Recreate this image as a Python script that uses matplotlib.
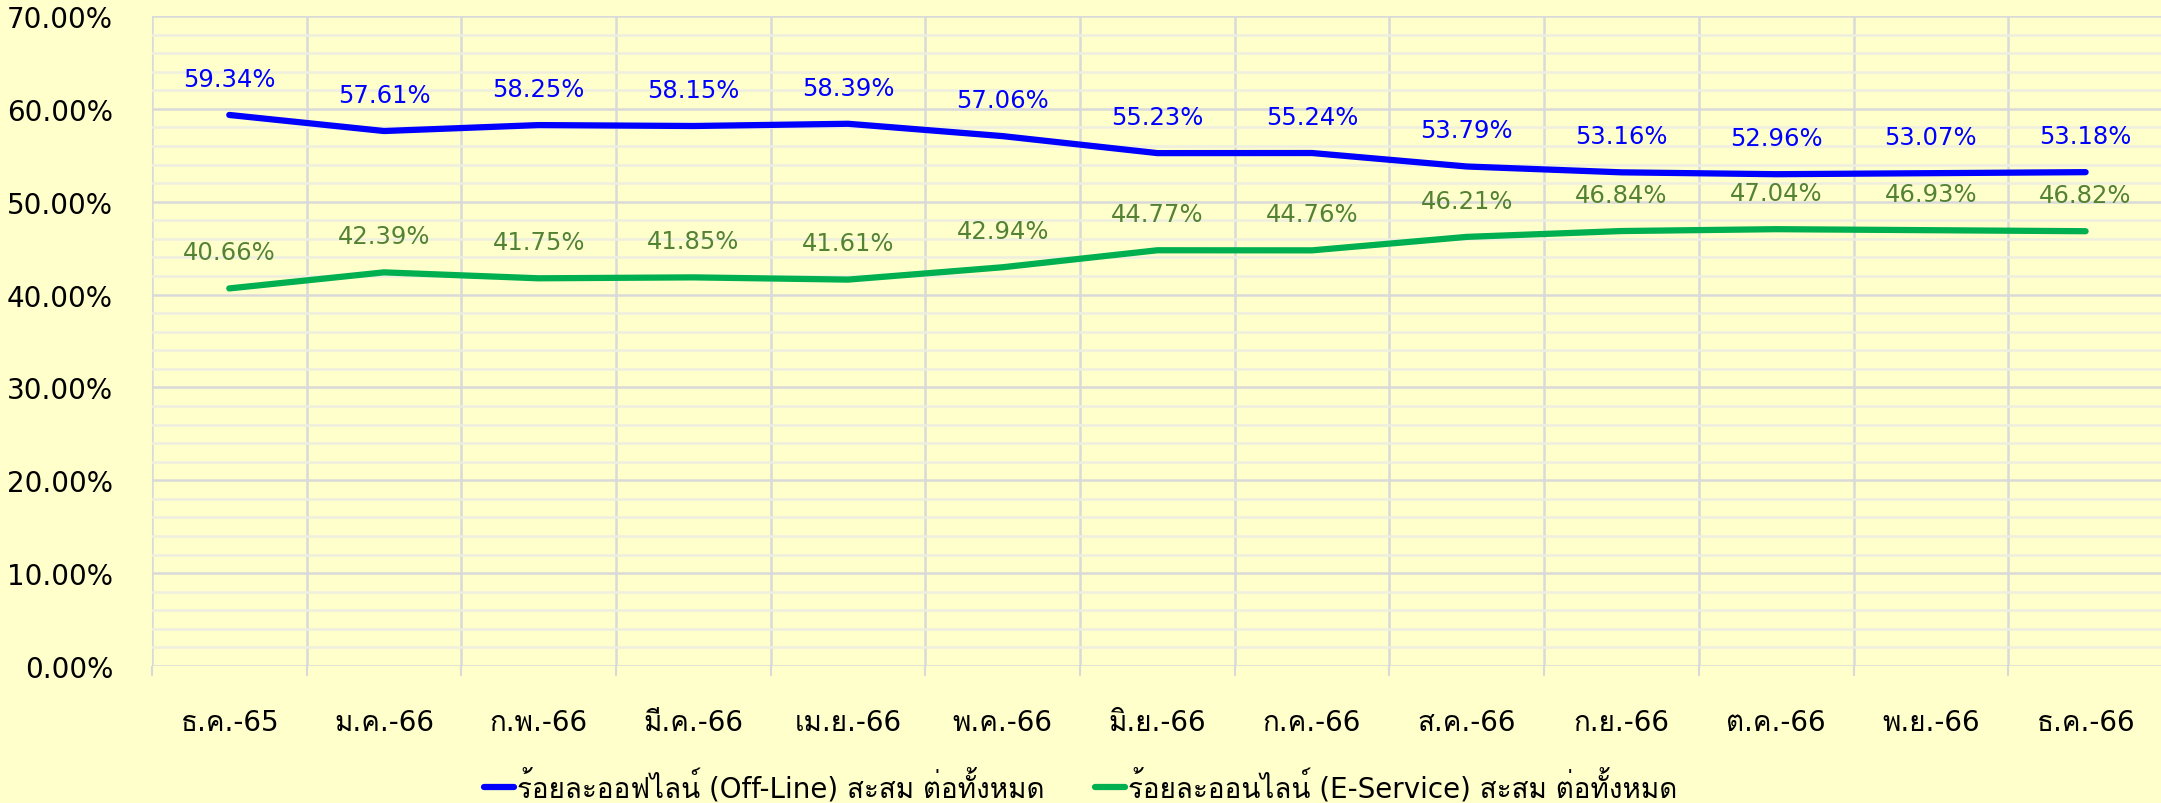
#!/usr/bin/env python3

# plot.py
# cumulative share of off-line vs online (E-Service) over time

import numpy as np
import matplotlib
matplotlib.use("Agg")
import matplotlib.pyplot as plt
from matplotlib import font_manager
from matplotlib.ft2font import FT2Font
from matplotlib.ticker import MultipleLocator, FixedLocator, FuncFormatter


# data

months = ["ธ.ค.-65", "ม.ค.-66", "ก.พ.-66", "มี.ค.-66", "เม.ย.-66", "พ.ค.-66", "มิ.ย.-66",
          "ก.ค.-66", "ส.ค.-66", "ก.ย.-66", "ต.ค.-66", "พ.ย.-66", "ธ.ค.-66"]
offline = [59.34, 57.61, 58.25, 58.15, 58.39, 57.06, 55.23, 55.24, 53.79, 53.16, 52.96, 53.07, 53.18]
online = [40.66, 42.39, 41.75, 41.85, 41.61, 42.94, 44.77, 44.76, 46.21, 46.84, 47.04, 46.93, 46.82]

offline_name = "ร้อยละออฟไลน์ (Off-Line) สะสม ต่อทั้งหมด"
online_name = "ร้อยละออนไลน์ (E-Service) สะสม ต่อทั้งหมด"


# find an installed font that has Thai glyphs

def FindThaiFont():
    for f in font_manager.fontManager.ttflist:
        try:
            if 0x0E01 in FT2Font(f.fname).get_charmap():
                return f.name
        except Exception:
            pass
    return None


thai_font = FindThaiFont()
families = ["DejaVu Sans"]
if thai_font:
    families.append(thai_font)
plt.rcParams['font.family'] = families


bg = "#FFFFCC"
blue = "#0000FF"
green = "#00B050"
green_lbl = "#548235"

fig = plt.figure(figsize=(21.61, 8.04), dpi=100, facecolor=bg)
# plot area runs a little past the right edge of the picture, like the original
ax = fig.add_axes([0.0703, 0.1704, 0.9306, 0.8085])
ax.set_facecolor(bg)

x = np.arange(len(months))

ax.plot(x, offline, color=blue, lw=4.5, solid_capstyle='round', label=offline_name, zorder=3)
ax.plot(x, online, color=green, lw=4.5, solid_capstyle='round', label=online_name, zorder=3)

for xi, v in zip(x, offline):
    ax.annotate(f"{v:.2f}%", (xi, v), xytext=(0, 26), textcoords="offset points",
                ha="center", va="center", fontsize=17.5, color=blue)
for xi, v in zip(x, online):
    ax.annotate(f"{v:.2f}%", (xi, v), xytext=(0, 26), textcoords="offset points",
                ha="center", va="center", fontsize=17.5, color=green_lbl)


# axes, ticks, grid

ax.set_xlim(-0.5, len(months) - 0.5)
ax.set_ylim(0, 70)

ax.set_xticks(x)
ax.set_xticklabels(months, fontsize=20)
ax.xaxis.set_minor_locator(FixedLocator(np.arange(-0.5, len(months), 1.0)))
ax.tick_params(axis='x', which='major', length=0, pad=30)
ax.tick_params(axis='x', which='minor', length=7, width=1.5, color="#D9D9D9")

ax.yaxis.set_major_locator(MultipleLocator(10))
ax.yaxis.set_minor_locator(MultipleLocator(2))
ax.yaxis.set_major_formatter(FuncFormatter(lambda v, p: f"{v:.2f}%"))
ax.tick_params(axis='y', which='major', length=0, pad=28, labelsize=20)
ax.tick_params(axis='y', which='minor', length=0)

ax.grid(True, axis='y', which='major', color="#D9D9D9", lw=1.8, zorder=0)
ax.grid(True, axis='y', which='minor', color="#EFEFE0", lw=1.8, zorder=0)
ax.grid(True, axis='x', which='minor', color="#D9D9D9", lw=1.8, zorder=0)
ax.grid(False, axis='x', which='major')
ax.set_axisbelow(True)

for s in ax.spines.values():
    s.set_visible(False)


# legend at the bottom

fig.legend(loc="center", bbox_to_anchor=(0.5, 0.022), ncol=2, frameon=False, fontsize=20,
           handlelength=1.1, handletextpad=0.1, columnspacing=1.8)

plt.savefig("out.png", dpi=100, facecolor=bg)
